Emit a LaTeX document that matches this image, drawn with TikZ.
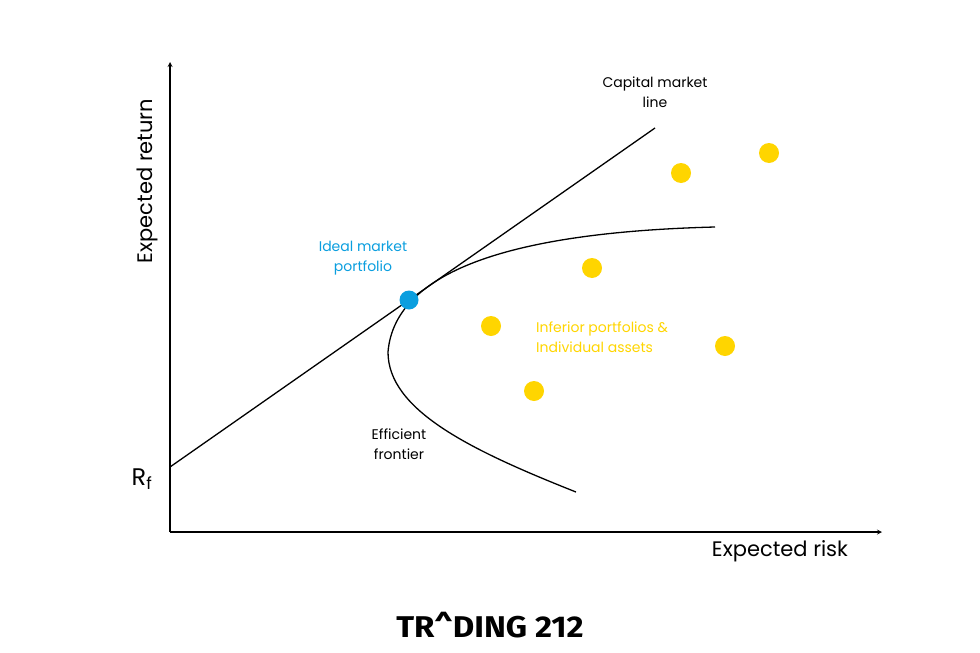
\documentclass[tikz,border=0pt]{standalone}
\usepackage{fontspec}
\setmainfont{Poppins}
\newfontfamily\logofont{Fira Sans}
\definecolor{ylw}{HTML}{FFD500}
\definecolor{blu}{HTML}{0A9EDF}
\begin{document}
\begin{tikzpicture}[x=1pt,y=-1pt,
  lbl/.style={font=\fontsize{14}{20}\selectfont,align=center,inner sep=0},
  dotY/.style={circle,fill=ylw,minimum size=20,inner sep=0},
  curve/.style={line width=1.3pt,black}]
\useasboundingbox (0,0) rectangle (980,653);
\coordinate (o) at (170,532);
\coordinate (ytop) at (170,62);
\coordinate (xend) at (882,532);
\draw[line width=1.2pt,-stealth] (o) -- (ytop);
\draw[line width=1.2pt,-stealth] (o) -- (xend);
\coordinate (cs) at (170,467);
\coordinate (ce) at (655,128);
\draw[curve] (cs) -- (ce);
\coordinate (f1) at (715,227);
\coordinate (f2) at (388,352);
\coordinate (f3) at (576,492);
\draw[curve] (f1) .. controls (520,232) and (395,268) .. (f2) .. controls (388,410) and (470,450) .. (f3);
\node[circle,fill=blu,minimum size=19,inner sep=0] (m) at (409,300) {};
\foreach \n/\p in {a/{681,173},b/{769,153},c/{592,268},d/{491,326},e/{725,346},f/{534,391}}
  \node[dotY] (\n) at (\p) {};
\node[lbl] (cml) at (655,92) {Capital market\\line};
\node[lbl,text=blu] (imp) at (363,258) {Ideal market\\portfolio};
\node[lbl,text=ylw,anchor=west,align=left] (inf) at (536,337) {Inferior portfolios \&\\Individual assets};
\node[lbl] (ef) at (399,444) {Efficient\\frontier};
\node[font=\fontsize{21}{24}\selectfont,rotate=90] (yl) at (147,181) {Expected return};
\node[font=\fontsize{21}{24}\selectfont] (xl) at (780,551) {Expected risk};
\node[font=\fontsize{24}{26}\selectfont] (rf) at (142,479) {R$_{\mathrm{f}}$};
\node[font=\logofont\bfseries\fontsize{30}{32}\selectfont,xscale=1.1] (logo) at (490,625) {TR\textasciicircum DING 212};
\end{tikzpicture}
\end{document}
